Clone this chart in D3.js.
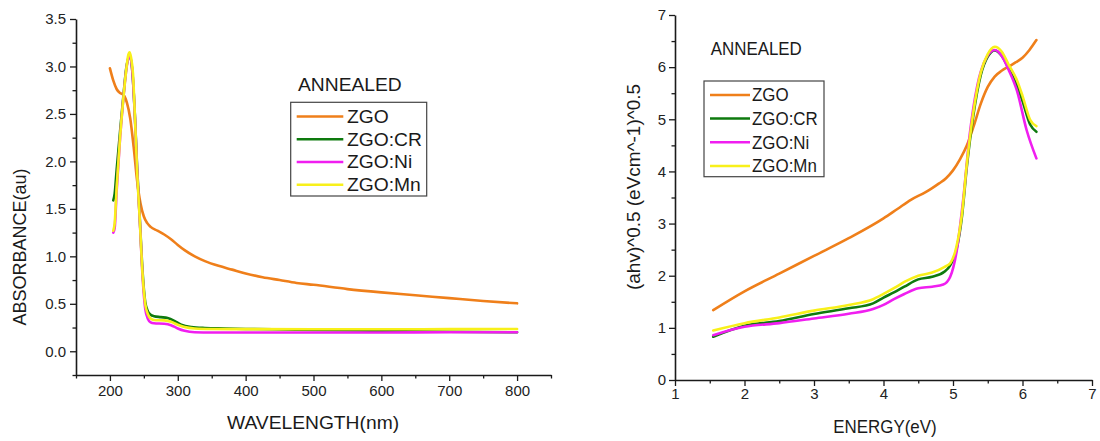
<!DOCTYPE html>
<html><head><meta charset="utf-8">
<script src="https://cdn.jsdelivr.net/npm/d3@7"></script>
<style>
html,body{margin:0;padding:0;background:#fff;}
svg{display:block;font-family:"Liberation Sans",Arial,sans-serif;}
</style></head>
<body>
<svg id="chart" width="1100" height="441"></svg>
<script>
// ---------- Left chart data (absorbance vs wavelength) ----------
const seriesNames = ["ZGO", "ZGO:CR", "ZGO:Ni", "ZGO:Mn"];
const seriesColors = ["#ef7f1a", "#0e7a0e", "#f01ef0", "#f8f01a"];

const zgoWl  = [200,205,210,215,220,225,230,235,240,245,250,255,260,270,280,290,300,310,325,340,360,380,400,425,450,475,500,550,600,650,700,750,800];
const zgoAbs = [2.98,2.85,2.76,2.72,2.70,2.62,2.45,2.15,1.80,1.56,1.42,1.35,1.31,1.27,1.23,1.18,1.12,1.065,1.00,0.95,0.90,0.86,0.82,0.78,0.75,0.72,0.70,0.655,0.62,0.59,0.56,0.53,0.505];

const crWl  = [205,207,210,215,220,224,228,230,233,237,240,244,248,252,256,260,265,275,285,295,305,320,340,370,400,440,500,600,700,800];
const crAbs = [1.59,1.66,1.92,2.32,2.70,2.98,3.10,3.10,2.95,2.45,1.95,1.40,0.85,0.52,0.42,0.385,0.37,0.36,0.35,0.32,0.28,0.255,0.245,0.24,0.235,0.232,0.225,0.215,0.205,0.20];

const niWl  = [205,207,210,215,220,224,228,230,233,237,240,244,248,252,256,260,265,280,290,300,310,325,350,400,500,600,700,800];
const niAbs = [1.25,1.30,1.70,2.25,2.68,2.96,3.10,3.10,2.95,2.44,1.92,1.38,0.80,0.45,0.34,0.305,0.295,0.29,0.275,0.24,0.215,0.20,0.198,0.198,0.198,0.198,0.20,0.20];

const mnWl  = [205,207,210,215,220,224,227,229,231,234,237,240,244,248,252,256,260,265,280,290,300,310,325,350,400,500,600,700,800];
const mnAbs = [1.27,1.35,1.73,2.26,2.68,2.96,3.12,3.15,3.10,2.92,2.44,1.91,1.38,0.82,0.50,0.39,0.345,0.33,0.325,0.31,0.28,0.255,0.24,0.235,0.233,0.232,0.232,0.233,0.234];

const leftXTicks = [200,300,400,500,600,700,800];
const leftXMinor = [150,250,350,450,550,650,750,850];
const leftYTicks = [0,0.5,1.0,1.5,2.0,2.5,3.0,3.5];
const leftYMinor = [-0.25,0.25,0.75,1.25,1.75,2.25,2.75,3.25];

// ---------- Right chart data (Tauc plot vs energy) ----------
const zgoE = [1.55,2.0,2.5,3.0,3.5,4.0,4.2,4.4,4.6,4.7,4.8,4.9,5.0,5.1,5.2,5.3,5.4,5.5,5.6,5.7,5.8,5.9,6.0,6.1,6.2];
const zgoT = [1.34,1.70,2.04,2.38,2.72,3.10,3.28,3.46,3.60,3.68,3.77,3.87,4.02,4.23,4.50,4.88,5.30,5.62,5.82,5.93,6.01,6.09,6.18,6.33,6.52];

const crE = [1.55,2.0,2.5,3.0,3.5,3.85,4.0,4.15,4.3,4.5,4.7,4.88,4.96,5.05,5.13,5.20,5.29,5.4,5.5,5.6,5.7,5.8,5.92,6.0,6.11,6.2];
const crT = [0.83,1.04,1.13,1.265,1.375,1.47,1.58,1.68,1.79,1.93,1.98,2.08,2.20,2.50,3.15,4.10,5.05,5.85,6.20,6.32,6.22,5.98,5.65,5.35,4.90,4.76];

const niE = [1.55,2.0,2.5,3.0,3.5,3.85,4.0,4.15,4.3,4.5,4.7,4.86,4.96,5.05,5.15,5.24,5.35,5.45,5.6,5.7,5.8,5.92,6.06,6.2];
const niT = [0.86,1.02,1.09,1.18,1.27,1.36,1.44,1.55,1.65,1.76,1.79,1.83,1.98,2.45,3.50,4.70,5.65,6.10,6.33,6.22,5.95,5.55,4.79,4.25];

const mnE = [1.55,2.0,2.5,3.0,3.5,3.85,4.0,4.15,4.3,4.5,4.7,4.88,4.96,5.05,5.13,5.20,5.29,5.4,5.5,5.6,5.7,5.8,5.92,6.0,6.11,6.2];
const mnT = [0.95,1.09,1.20,1.33,1.44,1.55,1.65,1.76,1.88,2.00,2.06,2.17,2.24,2.56,3.20,4.16,5.11,5.90,6.25,6.39,6.30,6.05,5.75,5.45,4.99,4.87];

const rightXTicks = [1,2,3,4,5,6,7];
const rightXMinor = [1.5,2.5,3.5,4.5,5.5,6.5];
const rightYTicks = [0,1,2,3,4,5,6,7];
const rightYMinor = [0.5,1.5,2.5,3.5,4.5,5.5,6.5];

// ---------- drawing ----------
const svg = d3.select("#chart");
const AX = "#1a1a1a";

function zipXY(xs, ys){ return xs.map((x,i)=>({x, y: ys[i]})); }

function drawAxes(g, x, y, cfg){
  const xa = g.append("g").attr("transform",`translate(0,${y.range()[0]})`)
    .call(d3.axisBottom(x).tickValues(cfg.xt).tickSize(6).tickSizeOuter(0).tickPadding(cfg.xpad).tickFormat(cfg.xf));
  const xm = g.append("g").attr("transform",`translate(0,${y.range()[0]})`)
    .call(d3.axisBottom(x).tickValues(cfg.xm).tickSize(3.5).tickSizeOuter(0).tickFormat(""));
  const ya = g.append("g").attr("transform",`translate(${x.range()[0]},0)`)
    .call(d3.axisLeft(y).tickValues(cfg.yt).tickSize(6).tickSizeOuter(0).tickPadding(cfg.ypad).tickFormat(cfg.yf));
  const ym = g.append("g").attr("transform",`translate(${x.range()[0]},0)`)
    .call(d3.axisLeft(y).tickValues(cfg.ym).tickSize(3.5).tickSizeOuter(0).tickFormat(""));
  [xa,xm,ya,ym].forEach(a=>{
    a.select(".domain").attr("stroke",AX).attr("stroke-width",1.6);
    a.selectAll(".tick line").attr("stroke",AX).attr("stroke-width",1.3);
    a.selectAll(".tick text").attr("fill","#222").style("font-size",cfg.tickFont+"px")
      .style("font-family","'Liberation Sans',Arial,sans-serif");
  });
  xm.select(".domain").remove(); ym.select(".domain").remove();
}

function drawLines(g, x, y, data){
  const line = d3.line().x(d=>x(d.x)).y(d=>y(d.y)).curve(d3.curveMonotoneX);
  data.forEach((pts,i)=>{
    g.append("path").datum(pts).attr("d",line).attr("fill","none")
      .attr("stroke",seriesColors[i]).attr("stroke-width",2.6)
      .attr("stroke-linejoin","round").attr("stroke-linecap","round");
  });
}

function scaledText(g, txt, x, y, size, sx, anchor){
  return g.append("text").attr("transform",`translate(${x},${y}) scale(${sx},1)`)
    .attr("text-anchor",anchor||"start").style("font-size",size+"px").attr("fill","#1a1a1a").text(txt);
}

function drawLegend(g, box, lineX0, lineX1, textX, ys, size, sx){
  g.append("rect").attr("x",box[0]).attr("y",box[1]).attr("width",box[2]-box[0]).attr("height",box[3]-box[1])
    .attr("fill","#fff").attr("stroke","#444").attr("stroke-width",1.2);
  seriesNames.forEach((n,i)=>{
    g.append("line").attr("x1",lineX0).attr("x2",lineX1).attr("y1",ys[i]).attr("y2",ys[i])
      .attr("stroke",seriesColors[i]).attr("stroke-width",2.6);
    scaledText(g, n, textX, ys[i]+6.3, size, sx);
  });
}

// Left chart
{
  const g = svg.append("g");
  const x = d3.scaleLinear().domain([150,850]).range([76,551]);
  const y = d3.scaleLinear().domain([-0.25,3.5]).range([375,19]);
  drawLines(g, x, y, [zipXY(zgoWl,zgoAbs), zipXY(crWl,crAbs), zipXY(niWl,niAbs), zipXY(mnWl,mnAbs)]);
  drawAxes(g, x, y, {xt:leftXTicks, xm:leftXMinor, yt:leftYTicks, ym:leftYMinor,
    xf:d3.format("d"), yf:d3.format(".1f"), xpad:4, ypad:4, tickFont:15});
  scaledText(g, "WAVELENGTH(nm)", 313, 429, 18, 1.07, "middle");
  g.append("text").attr("transform","translate(26,247) rotate(-90)").attr("text-anchor","middle")
    .style("font-size","18px").attr("fill","#1a1a1a").text("ABSORBANCE(au)");
  scaledText(g, "ANNEALED", 298, 90.5, 18, 1.07);
  drawLegend(g, [290.7,102.3,426.7,196], 296.7, 343.3, 347, [116.5,139.3,162,184.8], 18, 1.07);
}

// Right chart
{
  const g = svg.append("g");
  const x = d3.scaleLinear().domain([1,7]).range([675,1092]);
  const y = d3.scaleLinear().domain([0,7]).range([380,15]);
  drawLines(g, x, y, [zipXY(zgoE,zgoT), zipXY(crE,crT), zipXY(niE,niT), zipXY(mnE,mnT)]);
  drawAxes(g, x, y, {xt:rightXTicks, xm:rightXMinor, yt:rightYTicks, ym:rightYMinor,
    xf:d3.format("d"), yf:d3.format("d"), xpad:2, ypad:3, tickFont:15});
  scaledText(g, "ENERGY(eV)", 885, 433, 18, 0.94, "middle");
  g.append("text").attr("transform","translate(640,187) scale(0.94,1) rotate(-90)").attr("text-anchor","middle")
    .style("font-size","19px").attr("fill","#1a1a1a").text("(ahv)^0.5 (eVcm^-1)^0.5");
  scaledText(g, "ANNEALED", 710.7, 55, 18, 0.94);
  drawLegend(g, [704,81,824,176.7], 710, 750, 752, [95,118.5,142.3,166], 18, 0.94);
}
</script>
</body></html>
